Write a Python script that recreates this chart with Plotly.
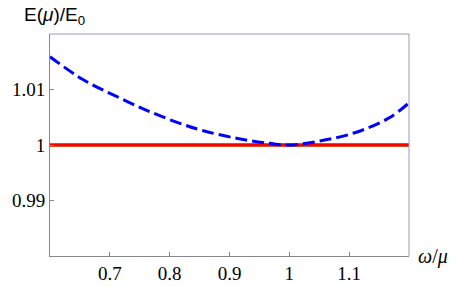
import plotly.graph_objects as go

omega = [0.6, 0.655, 0.712, 0.767, 0.817, 0.855, 0.912, 0.967, 1.0, 1.055, 1.112, 1.167, 1.2]
energy_ratio = [1.0159, 1.0118, 1.0087, 1.0060, 1.0039, 1.0026, 1.0012, 1.0003, 1.0, 1.0008, 1.0023, 1.0049, 1.0076]
reference_x = [0.6, 1.2]
reference_y = [1.0, 1.0]
x_ticks = [0.7, 0.8, 0.9, 1.0, 1.1]
x_tick_labels = ["0.7", "0.8", "0.9", "1", "1.1"]
y_ticks = [0.99, 1.0, 1.01]
y_tick_labels = ["0.99", "1", "1.01"]

SERIF = "Liberation Serif"
SANS = "Liberation Sans"

fig = go.Figure()
fig.add_trace(go.Scatter(x=reference_x, y=reference_y, mode="lines",
                         line=dict(color="#8a8a20", width=3.6), hoverinfo="skip"))
fig.add_trace(go.Scatter(x=reference_x, y=reference_y, mode="lines",
                         line=dict(color="#ff0000", width=3), hoverinfo="skip"))
fig.add_trace(go.Scatter(x=omega, y=energy_ratio, mode="lines",
                         line=dict(color="#0000ff", width=3, dash="12px,5px", shape="spline")))

axis_font = dict(family=SERIF, size=19, color="black")
fig.update_layout(
    width=463, height=286,
    font=dict(family=SERIF, size=19, color="black"),
    margin=dict(l=50, r=54, t=34, b=30, autoexpand=False),
    paper_bgcolor="white", plot_bgcolor="white",
    showlegend=False,
    xaxis=dict(range=[0.6, 1.2], tickvals=x_ticks, ticktext=x_tick_labels,
               ticks="inside", ticklen=4, tickcolor="#888888", tickwidth=1,
               showline=True, linecolor="#888888", linewidth=1, automargin=False,
               showgrid=False, zeroline=False, tickfont=axis_font),
    yaxis=dict(range=[0.98, 1.02], tickvals=y_ticks, ticktext=y_tick_labels,
               ticks="inside", ticklen=4, tickcolor="#888888", tickwidth=1,
               showline=True, linecolor="#888888", linewidth=1, automargin=False,
               showgrid=False, zeroline=False, tickfont=axis_font),
    shapes=[
        dict(type="line", xref="paper", yref="paper", x0=0, x1=1, y0=1, y1=1,
             line=dict(color="#9999cc", width=1)),
        dict(type="line", xref="paper", yref="paper", x0=1, x1=1, y0=0, y1=1,
             line=dict(color="#9999cc", width=1)),
    ],
    annotations=[
        dict(text="E(<i>μ</i>)/E<sub>0</sub>",
             xref="paper", yref="paper",
             x=-0.078, y=1.0, xanchor="left", yanchor="bottom", yshift=4, showarrow=False,
             font=dict(family=SANS, size=19, color="black")),
        dict(text="<i>ω</i>/<i>μ</i>", xref="paper", yref="paper",
             x=1.0, y=0.0, xanchor="left", yanchor="middle", xshift=7, showarrow=False,
             font=dict(family=SERIF, size=20, color="black")),
    ],
)
fig.write_html("out.html", config={"displayModeBar": False},
               post_script="document.body.style.margin='0px';")
